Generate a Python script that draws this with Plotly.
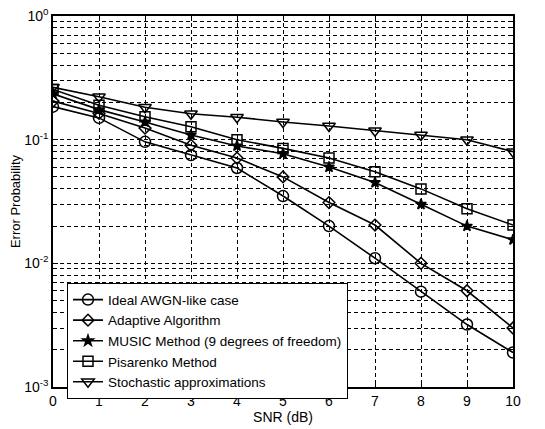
import plotly.graph_objects as go

snr = [0, 1, 2, 3, 4, 5, 6, 7, 8, 9, 10]
ideal = [0.185, 0.150, 0.096, 0.075, 0.059, 0.035, 0.020, 0.011, 0.0059, 0.0032, 0.0019]
adaptive = [0.205, 0.163, 0.124, 0.090, 0.071, 0.050, 0.031, 0.0204, 0.0100, 0.0060, 0.0030]
music = [0.235, 0.175, 0.139, 0.109, 0.089, 0.077, 0.060, 0.045, 0.030, 0.020, 0.0155]
pisarenko = [0.255, 0.190, 0.153, 0.127, 0.100, 0.085, 0.071, 0.055, 0.040, 0.0276, 0.0204]
stochastic = [0.265, 0.222, 0.183, 0.162, 0.152, 0.139, 0.129, 0.118, 0.109, 0.100, 0.080]

names = ["Ideal AWGN-like case", "Adaptive Algorithm",
         "MUSIC Method (9 degrees of freedom)", "Pisarenko Method",
         "Stochastic approximations"]
series = [ideal, adaptive, music, pisarenko, stochastic]
symbols = ["circle-open", "diamond-open", "star", "square-open", "triangle-down-open"]
sizes = [11, 9, 8, 10, 11]

ytickvals = [1e-3, 1e-2, 1e-1, 1e0]
yticktext = ["10<sup>-3</sup>", "10<sup>-2</sup>", "10<sup>-1</sup>", "10<sup>0</sup>"]
yminor = [m * 10 ** e for e in (-3, -2, -1) for m in range(2, 10)]

FONT = "Liberation Sans, Arial"

fig = go.Figure()
for name, vals, sym, sz in zip(names, series, symbols, sizes):
    fig.add_trace(go.Scatter(
        x=snr, y=vals, name=name, mode="lines+markers",
        line=dict(color="black", width=1.6),
        marker=dict(symbol=sym, size=sz, color="black",
                    line=dict(color="black", width=1.5)),
    ))

axis_common = dict(
    showline=True, linecolor="black", linewidth=1.5, mirror="ticks",
    ticks="inside", tickcolor="black", ticklen=5, automargin=False,
    showgrid=True, gridcolor="black", gridwidth=0.8, griddash="4px,3px",
    zeroline=False, tickfont=dict(family=FONT, size=14, color="black"),
)

fig.update_xaxes(
    range=[0, 10], tickvals=snr, ticktext=[str(v) for v in snr],
    title=dict(text="SNR (dB)", font=dict(family=FONT, size=14, color="black"), standoff=2),
    **axis_common,
)
fig.update_yaxes(
    type="log", range=[-3, 0], tickvals=ytickvals, ticktext=yticktext,
    title=dict(text="Error Probability", font=dict(family=FONT, size=13, color="black"), standoff=1),
    minor=dict(tickvals=yminor, ticks="inside", ticklen=3, tickcolor="black",
               showgrid=True, gridcolor="black", gridwidth=0.8, griddash="4px,3px"),
    **axis_common,
)

fig.update_layout(
    width=545, height=429,
    margin=dict(l=53, r=32, t=16, b=42),
    paper_bgcolor="white", plot_bgcolor="white",
    font=dict(family=FONT, size=14, color="black"),
    legend=dict(x=0.03, y=0.28, xanchor="left", yanchor="top",
                bgcolor="white", bordercolor="black", borderwidth=1.2,
                font=dict(size=13.5), tracegroupgap=0, itemwidth=30),
    showlegend=True,
)

fig.write_html("out.html", config={"displayModeBar": False},
               post_script="document.body.style.margin='0px';")
